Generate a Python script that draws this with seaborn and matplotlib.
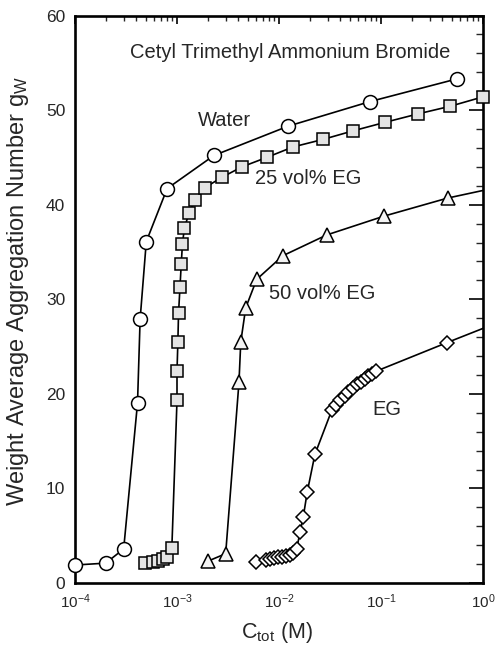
import matplotlib
matplotlib.use("Agg")
import matplotlib.pyplot as plt
import matplotlib.ticker as mticker
import numpy as np
import pandas as pd
import seaborn as sns

# Aggregation number g_W versus total surfactant concentration (CTAB)
water_c = [1e-4, 2e-4, 3e-4, 4.1e-4, 4.35e-4, 5.0e-4, 8.0e-4, 2.3e-3, 0.0123, 0.078, 0.556]
water_g = [1.9, 2.1, 3.6, 19.0, 27.9, 36.1, 41.7, 45.2, 48.3, 50.9, 53.3]

eg25_c = [4.9e-4, 5.8e-4, 6.5e-4, 7.3e-4, 8.0e-4, 8.9e-4, 1.0e-3, 1.0e-3, 1.02e-3,
          1.035e-3, 1.07e-3, 1.1e-3, 1.13e-3, 1.18e-3, 1.31e-3, 1.5e-3, 1.88e-3,
          2.76e-3, 4.34e-3, 7.6e-3, 0.0137, 0.027, 0.053, 0.109, 0.231, 0.475, 1.0]
eg25_g = [2.1, 2.2, 2.3, 2.5, 2.8, 3.7, 19.3, 22.4, 25.5, 28.5, 31.3, 33.7, 35.8,
          37.5, 39.1, 40.5, 41.8, 42.9, 44.0, 45.0, 46.1, 46.9, 47.8, 48.7, 49.6,
          50.4, 51.4]

eg50_c = [2.0e-3, 3.0e-3, 4.05e-3, 4.22e-3, 4.72e-3, 6.04e-3, 0.0109, 0.0294, 0.108, 0.451, 2.0]
eg50_g = [2.3, 3.1, 21.2, 25.5, 29.1, 32.1, 34.6, 36.8, 38.8, 40.7, 42.2]

eg_c = [6.0e-3, 7.5e-3, 8.2e-3, 9.0e-3, 9.8e-3, 0.0107, 0.0117, 0.0127, 0.0137,
        0.0149, 0.0161, 0.0173, 0.0189, 0.0225,
        0.033, 0.036, 0.040, 0.044, 0.048, 0.053, 0.058, 0.063, 0.069, 0.075,
        0.082, 0.090, 0.44, 2.0]
eg_g = [2.25, 2.4, 2.5, 2.6, 2.7, 2.8, 2.9, 3.0, 3.2,
        3.6, 5.4, 7.0, 9.6, 13.6,
        18.3, 18.8, 19.3, 19.8, 20.2, 20.6, 21.0, 21.3, 21.6, 21.9,
        22.1, 22.4, 25.4, 28.2]

series_names = ["Water", "25 vol% EG", "50 vol% EG", "EG"]
x_ticks = [1e-4, 1e-3, 1e-2, 1e-1, 1e0]
y_ticks = [0, 10, 20, 30, 40, 50, 60]

frames = []
for name, c, g in zip(series_names,
                      [water_c, eg25_c, eg50_c, eg_c],
                      [water_g, eg25_g, eg50_g, eg_g]):
    frames.append(pd.DataFrame({"c": c, "g": g, "solvent": name,
                                "order": np.arange(len(c))}))
data = pd.concat(frames, ignore_index=True)

sns.set_style("white")
plt.rcParams["font.family"] = ["Liberation Sans", "DejaVu Sans"]
plt.rcParams["mathtext.fontset"] = "custom"
plt.rcParams["mathtext.rm"] = "Liberation Sans"
plt.rcParams["mathtext.it"] = "Liberation Sans"
plt.rcParams["mathtext.bf"] = "Liberation Sans"

fig = plt.figure(figsize=(4.95, 6.46), dpi=100)
ax = fig.add_axes([75 / 495, 63 / 646, 408 / 495, 567.5 / 646])

styles = {
    "Water": dict(marker="o", ms=10, mfc="white", clip=False),
    "25 vol% EG": dict(marker="s", ms=8.6, mfc="#e4e4e4", clip=False),
    "50 vol% EG": dict(marker="^", ms=9.5, mfc="#f4f4f4", clip=True),
    "EG": dict(marker="D", ms=7.4, mfc="white", clip=True),
}

for name in series_names:
    st = styles[name]
    sub = data[data["solvent"] == name]
    sns.lineplot(data=sub, x="c", y="g", sort=False, estimator=None, ax=ax,
                 color="black", lw=1.2, marker=st["marker"], markersize=st["ms"],
                 markerfacecolor=st["mfc"], markeredgecolor="black",
                 markeredgewidth=1.1, clip_on=st["clip"], zorder=3)

ax.set_xscale("log")
ax.set_xlim(1e-4, 1e0)
ax.set_ylim(0, 60)
ax.set_xticks(x_ticks)
ax.set_yticks(y_ticks)
ax.xaxis.set_major_formatter(mticker.LogFormatterSciNotation())
ax.xaxis.set_minor_locator(mticker.LogLocator(base=10, subs=np.arange(2, 10), numticks=20))
ax.yaxis.set_minor_locator(mticker.MultipleLocator(2))

ax.tick_params(which="major", direction="in", length=10, width=1.4,
               top=True, right=True)
ax.tick_params(which="minor", direction="in", length=5, width=1.0,
               top=True, right=True)
ax.tick_params(axis="x", which="major", length=6, labelsize=11, pad=7)
ax.tick_params(axis="x", which="minor", length=3.5)
ax.tick_params(axis="y", which="major", labelsize=12.5, pad=7)
for sp in ax.spines.values():
    sp.set_linewidth(1.9)
    sp.set_color("black")

ax.set_xlabel(r"C$_{\rm tot}$ (M)", fontsize=15.5)
ax.set_ylabel(r"Weight Average Aggregation Number g$_{\rm W}$", fontsize=17)
ax.xaxis.set_label_coords(0.495, -0.066)
ax.yaxis.set_label_coords(-0.107, 0.515)

label_size = 14.5
ax.text(3.46e-4, 56.1, "Cetyl Trimethyl Ammonium Bromide", fontsize=label_size,
        ha="left", va="center")
ax.text(1.6e-3, 48.9, "Water", fontsize=label_size, ha="left", va="center")
ax.text(5.8e-3, 42.8, "25 vol% EG", fontsize=label_size, ha="left", va="center")
ax.text(7.98e-3, 30.6, "50 vol% EG", fontsize=label_size, ha="left", va="center")
ax.text(0.083, 18.3, "EG", fontsize=label_size, ha="left", va="center")

fig.savefig("out.png", dpi=100)
